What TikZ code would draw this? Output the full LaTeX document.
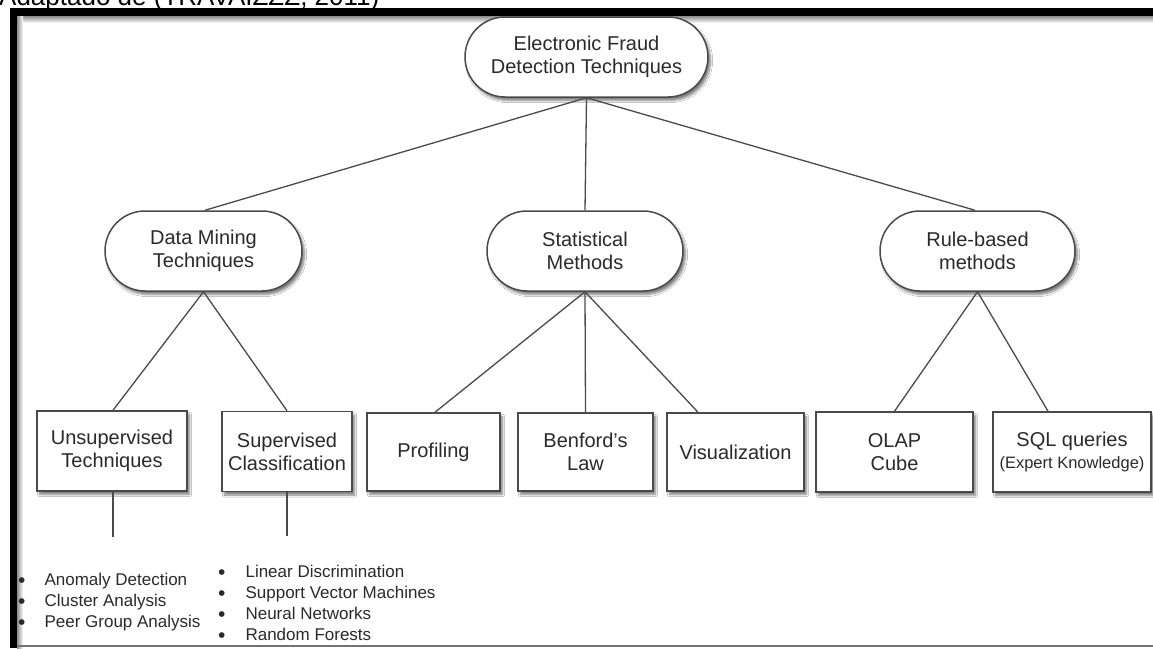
\documentclass[tikz,border=0pt]{standalone}
\usepackage{fontspec}
\setmainfont{Liberation Sans}
\usetikzlibrary{shadows.blur}
\definecolor{ln}{HTML}{4A4A4A}
\definecolor{tx}{HTML}{2A2A2A}
\newcommand{\blt}{\raisebox{-2pt}{\fontsize{21}{21}\selectfont\textbullet}}
\begin{document}
\begin{tikzpicture}[x=1pt,y=-1pt,
  base/.style={draw=ln, line width=1.5pt, fill=white, text=tx, align=center, inner sep=0pt,
     font=\fontsize{20}{23}\selectfont,
     blur shadow={shadow xshift=2.5pt, shadow yshift=-3.5pt, shadow blur steps=6, shadow opacity=50}},
  oval/.style={base, rounded corners=40pt, minimum height=80pt},
  box/.style={base, minimum height=80pt},
  link/.style={draw=ln, line width=1.3pt},
  lst/.style={text=tx, font=\fontsize{17}{21}\selectfont, inner sep=0pt, align=left}
]
\useasboundingbox (0,0) rectangle (1153,648);
\fill[white] (0,0) rectangle (1153,648);

% source caption, cut by the top edge as in the reference
\node[anchor=base west, inner sep=0pt, text=black, font=\fontsize{26}{30}\selectfont] (src) at (-1,5.5) {Adaptado de (TRAVAIZZZ, 2011)};

% frame
\fill[black] (10,8) rectangle (1153,16);
\fill[black] (10,8) rectangle (17,648);
\shade[top color=black!45, bottom color=white] (17,16) rectangle (1153,23);
\shade[left color=black!45, right color=white] (17,16) rectangle (23,648);
\draw[black!55, line width=1.5pt] (17,646) -- (1153,646);

% ovals
\node[oval, minimum width=243pt] (root) at (586.5,57) {Electronic Fraud\\Detection Techniques};
\node[oval, minimum width=197pt] (dm) at (203.5,251) {Data Mining\\Techniques};
\node[oval, minimum width=196pt] (sm) at (585,251) {Statistical\\Methods};
\node[oval, minimum width=195pt] (rb) at (977.5,251) {Rule-based\\methods};

% boxes
\node[box, minimum width=150pt] (uns) at (112,451) {Unsupervised\\Techniques};
\node[box, minimum width=130pt] (sup) at (287,451.5) {Supervised\\Classification};
\node[box, minimum width=133pt, minimum height=78pt] (prof) at (433.5,452) {Profiling};
\node[box, minimum width=135pt, minimum height=78pt] (benf) at (585.5,452) {Benford's\\Law};
\node[box, minimum width=137pt, minimum height=78pt] (vis) at (735.5,452) {Visualization};
\node[box, minimum width=157pt] (olap) at (894.5,452) {OLAP\\Cube};
\node[box, minimum width=158pt] (sql) at (1072,452) {SQL queries\\[-1pt]{\fontsize{16.5}{20}\selectfont(Expert Knowledge)}};

% connectors
\draw[link] (root.south) -- ([xshift=1.5pt]dm.north);
\draw[link] (root.south) -- (sm.north);
\draw[link] (root.south) -- ([xshift=-2.5pt]rb.north);
\draw[link] (dm.south) -- ([xshift=1pt]uns.north);
\draw[link] (dm.south) -- (sup.north);
\draw[link] (sm.south) -- ([xshift=1.5pt]prof.north);
\draw[link] (sm.south) -- (benf.north);
\draw[link] (sm.south) -- ([xshift=-37.5pt]vis.north);
\draw[link] (rb.south) -- (olap.north);
\draw[link] (rb.south) -- ([xshift=-24pt]sql.north);

\coordinate (ue) at (113,537);
\coordinate (se) at (287,536);
\draw[link] ([xshift=1pt]uns.south) -- (ue);
\draw[link] (sup.south) -- (se);

% lists
\node[lst, anchor=base west] (l1) at (18,585) {\begin{tabular}[t]{@{}l@{\hspace{19pt}}l@{}}
\blt & Anomaly Detection\\
\blt & Cluster Analysis\\
\blt & Peer Group Analysis
\end{tabular}};
\node[lst, anchor=base west] (l2) at (218,577) {\begin{tabular}[t]{@{}l@{\hspace{20pt}}l@{}}
\blt & Linear Discrimination\\
\blt & Support Vector Machines\\
\blt & Neural Networks\\
\blt & Random Forests
\end{tabular}};
\end{tikzpicture}
\end{document}
